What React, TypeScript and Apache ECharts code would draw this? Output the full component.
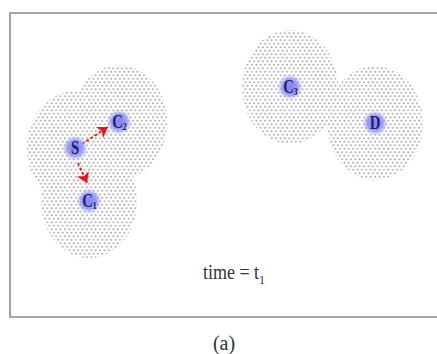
import React, { useEffect, useRef } from "react";
import * as echarts from "echarts";

// Diagram coordinates (units of the framed box, y grows downward)
const NODE_NAMES = ["S", "C", "C", "C", "D"];
const NODE_SUBS = ["", "2", "1", "3", ""];
const NODE_X = [65, 109, 79, 280, 365];
const NODE_Y = [135, 109, 188, 74, 110];

// Transmission range (ellipse radii, in box units)
const RANGE_RX = 48;
const RANGE_RY = 57;

// Arrows S -> C2 and S -> C1
const ARROW_FROM = [
  [72, 131],
  [68, 150],
];
const ARROW_TO = [
  [98, 114],
  [77, 170],
];

const TIME_LABEL = "time = t";
const TIME_SUB = "1";
const CAPTION = "(a)";

const SERIF = '"Liberation Serif", "DejaVu Serif", serif';

const dotTile =
  "data:image/svg+xml;charset=utf-8," +
  encodeURIComponent(
    "<svg xmlns='http://www.w3.org/2000/svg' width='4.4' height='7'>" +
      "<rect width='4.4' height='7' fill='white'/>" +
      "<circle cx='1.1' cy='1.75' r='0.95' fill='#a9a9a9'/>" +
      "<circle cx='3.3' cy='5.25' r='0.95' fill='#a9a9a9'/>" +
      "</svg>"
  );

export default function App() {
  const ref = useRef<HTMLDivElement>(null);

  useEffect(() => {
    document.body.style.margin = "0";
    document.body.style.overflow = "hidden";
    const chart = echarts.init(ref.current!, null, { renderer: "svg" });

    const nodeData = NODE_X.map((x, i) => [x, NODE_Y[i], i]);

    const option: any = {
      animation: false,
      backgroundColor: "#ffffff",
      grid: {
        left: 10,
        right: 0,
        top: 13,
        bottom: 37,
        show: false,
      },
      xAxis: { type: "value", min: 0, max: 427, show: false },
      yAxis: { type: "value", min: 0, max: 304, inverse: true, show: false },
      series: [
        {
          type: "custom",
          name: "range",
          z: 1,
          data: nodeData,
          renderItem: (params: any, api: any) => {
            const c = api.coord([api.value(0), api.value(1)]);
            const s = api.size([RANGE_RX, RANGE_RY]);
            return {
              type: "ellipse",
              shape: { cx: c[0], cy: c[1], rx: s[0], ry: s[1] },
              style: {
                fill: {
                  image: dotTile,
                  repeat: "repeat",
                  imageWidth: 4.4,
                  imageHeight: 7,
                },
                stroke: null,
              },
            };
          },
        },
        {
          type: "lines",
          name: "arrows",
          coordinateSystem: "cartesian2d",
          z: 3,
          symbol: ["none", "arrow"],
          symbolSize: 10,
          lineStyle: { color: "#e3171b", width: 1.8, type: [3, 2], opacity: 1 },
          data: ARROW_FROM.map((f, i) => ({ coords: [f, ARROW_TO[i]] })),
        },
        {
          type: "custom",
          name: "nodes",
          z: 4,
          data: nodeData,
          renderItem: (params: any, api: any) => {
            const c = api.coord([api.value(0), api.value(1)]);
            const i = api.value(2);
            const sub = NODE_SUBS[i];
            const children: any[] = [
              {
                type: "circle",
                shape: { cx: c[0], cy: c[1], r: 13 },
                style: {
                  fill: {
                    type: "radial",
                    x: 0.5,
                    y: 0.5,
                    r: 0.5,
                    colorStops: [
                      { offset: 0, color: "rgba(128,128,240,1)" },
                      { offset: 0.6, color: "rgba(150,150,246,0.9)" },
                      { offset: 1, color: "rgba(185,185,255,0)" },
                    ],
                  },
                },
              },
              {
                type: "text",
                x: c[0] - (sub ? 1.5 : 0),
                y: c[1],
                scaleX: 0.82,
                style: {
                  text: NODE_NAMES[i],
                  font: `bold 18px ${SERIF}`,
                  fill: "#1e1e6a",
                  align: "center",
                  verticalAlign: "middle",
                },
              },
            ];
            if (sub) {
              children.push({
                type: "text",
                x: c[0] + 3.5,
                y: c[1] + 5,
                scaleX: 0.85,
                style: {
                  text: sub,
                  font: `bold 10px ${SERIF}`,
                  fill: "#1e1e6a",
                  align: "left",
                  verticalAlign: "middle",
                },
              });
            }
            return { type: "group", children };
          },
        },
      ],
      graphic: [
        {
          type: "polyline",
          z: 10,
          shape: {
            points: [
              [440, 13],
              [10, 13],
              [10, 317],
              [440, 317],
            ],
          },
          style: { stroke: "#8c8c8c", lineWidth: 1.6, fill: null },
        },
        {
          type: "text",
          x: 203,
          y: 272,
          scaleX: 0.9,
          style: {
            text: TIME_LABEL,
            font: `20px ${SERIF}`,
            fill: "#333333",
            align: "left",
            verticalAlign: "middle",
          },
        },
        {
          type: "text",
          x: 259,
          y: 280,
          style: {
            text: TIME_SUB,
            font: `12px ${SERIF}`,
            fill: "#333333",
            align: "left",
            verticalAlign: "middle",
          },
        },
        {
          type: "text",
          x: 224,
          y: 343,
          style: {
            text: CAPTION,
            font: `20px ${SERIF}`,
            fill: "#333333",
            align: "center",
            verticalAlign: "middle",
          },
        },
      ],
    };

    chart.setOption(option);
    return () => chart.dispose();
  }, []);

  return <div ref={ref} style={{ width: 437, height: 354 }} />;
}
